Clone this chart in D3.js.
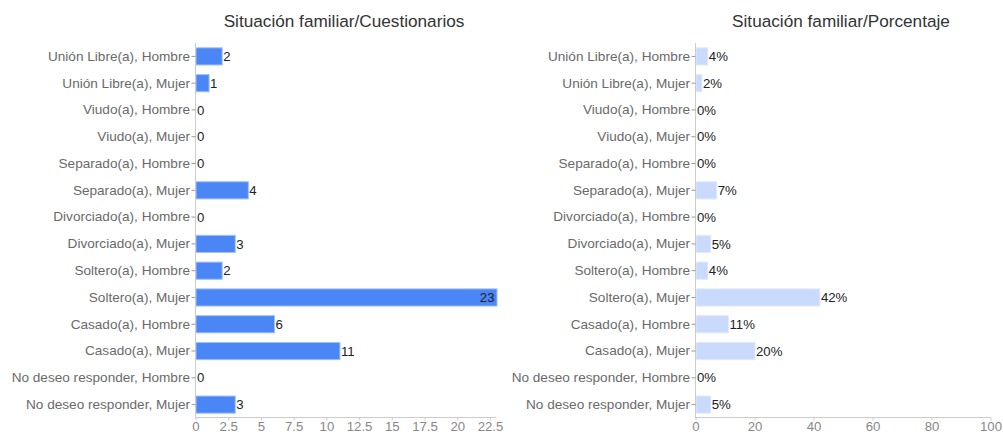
<!DOCTYPE html>
<html>
<head>
<meta charset="utf-8">
<script src="https://cdn.jsdelivr.net/npm/d3@7/dist/d3.min.js"></script>
<style>
  html, body { margin: 0; padding: 0; background: #fff; }
  svg { display: block; font-family: "Liberation Sans", Arial, sans-serif; }
</style>
</head>
<body>
<svg id="chart" width="1003" height="434"></svg>
<script>
// Categories (top to bottom)
const categories = [
  "Unión Libre(a), Hombre",
  "Unión Libre(a), Mujer",
  "Viudo(a), Hombre",
  "Viudo(a), Mujer",
  "Separado(a), Hombre",
  "Separado(a), Mujer",
  "Divorciado(a), Hombre",
  "Divorciado(a), Mujer",
  "Soltero(a), Hombre",
  "Soltero(a), Mujer",
  "Casado(a), Hombre",
  "Casado(a), Mujer",
  "No deseo responder, Hombre",
  "No deseo responder, Mujer"
];
// Number of questionnaires per category
const counts = [2, 1, 0, 0, 0, 4, 0, 3, 2, 23, 6, 11, 0, 3];
// Share of the total, in percent
const percents = [4, 2, 0, 0, 0, 7, 0, 5, 4, 42, 11, 20, 0, 5];
// Axis tick values
const countTicks = [0, 2.5, 5, 7.5, 10, 12.5, 15, 17.5, 20, 22.5];
const percentTicks = [0, 20, 40, 60, 80, 100];

const svg = d3.select("#chart");

function barPanel(opts) {
  const g = svg.append("g");
  const x = d3.scaleLinear().domain(opts.domain).range([opts.x0, opts.x1]);
  const y = d3.scaleBand().domain(categories).range([43, 418]).paddingInner(0.36).paddingOuter(0.18);

  // title
  g.append("text")
    .attr("x", opts.titleX).attr("y", 27)
    .attr("text-anchor", "middle")
    .attr("font-size", 17.2).attr("fill", "#333")
    .text(opts.title);

  // bars
  g.selectAll("rect.bar").data(opts.values).enter().append("rect")
    .attr("class", "bar")
    .attr("x", x(0) + 0.5)
    .attr("y", (d, i) => y(categories[i]))
    .attr("width", d => Math.max(0, x(d) - x(0)))
    .attr("height", y.bandwidth())
    .attr("fill", opts.fill)
    .attr("stroke", opts.stroke)
    .attr("stroke-width", d => d > 0 ? 1 : 0);

  // value labels
  g.selectAll("text.val").data(opts.values).enter().append("text")
    .attr("class", "val")
    .attr("y", (d, i) => y(categories[i]) + y.bandwidth() / 2)
    .attr("dy", "0.35em")
    .attr("font-size", 13.2).attr("fill", "#222")
    .each(function (d) {
      const t = d3.select(this);
      const inside = x(d) + 24 > opts.x1 + 3;
      t.attr("x", inside ? x(d) - 2 : x(d) + 1.5)
       .attr("text-anchor", inside ? "end" : "start")
       .text(opts.format(d));
    });

  // vertical category axis
  const yAxis = d3.axisLeft(y).tickSize(4).tickPadding(1.5);
  const ya = g.append("g").attr("transform", `translate(${x(0)},0)`).call(yAxis);
  ya.select(".domain").attr("stroke", "#ccc").attr("d", `M0,43V418`);
  ya.selectAll(".tick line").attr("stroke", "#999");
  ya.selectAll(".tick text").attr("fill", "#6a6a6a").attr("font-size", 13.6)
    .attr("font-family", "'Liberation Sans', Arial, sans-serif");

  // horizontal value axis
  const xAxis = d3.axisBottom(x).tickValues(opts.ticks).tickSize(3).tickPadding(1)
    .tickFormat(d3.format("~g"));
  const xa = g.append("g").attr("transform", `translate(0,417.5)`).call(xAxis);
  xa.select(".domain").attr("stroke", "#ccc").attr("d", `M${x(0)},0H${opts.x1}`);
  xa.selectAll(".tick line").attr("stroke", "#ccc");
  xa.selectAll(".tick text").attr("fill", "#888").attr("font-size", 13.2)
    .attr("font-family", "'Liberation Sans', Arial, sans-serif");
}

barPanel({
  title: "Situación familiar/Cuestionarios",
  titleX: 344,
  domain: [0, 23], x0: 195.5, x1: 496.5,
  values: counts, ticks: countTicks,
  fill: "#4a86f5", stroke: "#9fc0fa",
  format: d => String(d)
});

barPanel({
  title: "Situación familiar/Porcentaje",
  titleX: 841,
  domain: [0, 100], x0: 695.5, x1: 990.5,
  values: percents, ticks: percentTicks,
  fill: "#c9dafc", stroke: "#dfe9fd",
  format: d => d + "%"
});
</script>
</body>
</html>
